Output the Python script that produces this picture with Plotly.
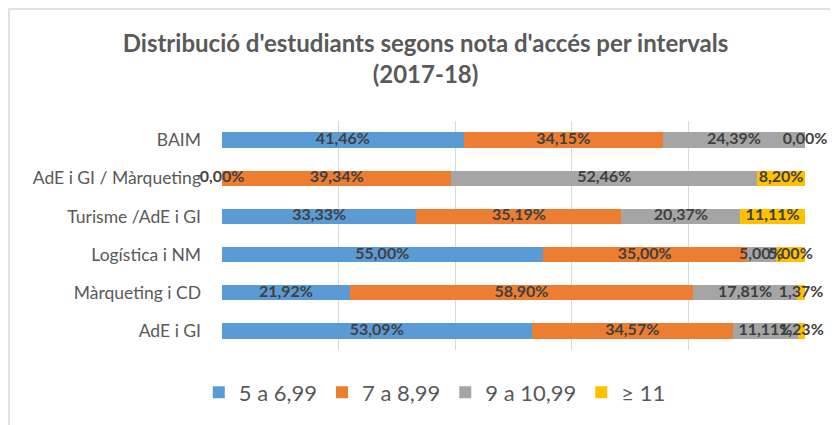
import numpy as np
import plotly.graph_objects as go

categories = ["AdE i GI", "Màrqueting i CD", "Logística i NM",
              "Turisme /AdE i GI", "AdE i GI / Màrqueting", "BAIM"]
series_names = ["5 a 6,99", "7 a 8,99", "9 a 10,99", "≥ 11"]
s1 = [53.09, 21.92, 55.00, 33.33, 0.00, 41.46]
s2 = [34.57, 58.90, 35.00, 35.19, 39.34, 34.15]
s3 = [11.11, 17.81, 5.00, 20.37, 52.46, 24.39]
s4 = [1.23, 1.37, 5.00, 11.11, 8.20, 0.00]
colors = ["#5B9BD5", "#ED7D31", "#A5A5A5", "#FFC000"]

series = [s1, s2, s3, s4]
FONT = "Lato"

fig = go.Figure()
for name, vals, col in zip(series_names, series, colors):
    fig.add_trace(go.Bar(
        y=categories, x=vals, name=name, orientation="h",
        marker=dict(color=col, line=dict(width=0)),
    ))

# data labels at segment midpoints
cum = np.zeros(len(categories))
for vals in series:
    v = np.array(vals)
    mid = cum + v / 2
    cum = cum + v
    fig.add_trace(go.Scatter(
        x=mid, y=categories, mode="text",
        text=[f"{x:.2f}%".replace(".", ",") for x in v],
        textfont=dict(family=FONT, size=16, color="#404040", weight="bold"),
        textposition="middle center", showlegend=False, hoverinfo="skip",
        cliponaxis=False,
    ))

fig.update_layout(
    width=830, height=417,
    barmode="stack", bargap=0.6,
    margin=dict(l=214, r=33, t=113, b=75),
    paper_bgcolor="white", plot_bgcolor="white",
    font=dict(family=FONT, color="#595959"),
    title=dict(
        text="<b>Distribució d'estudiants segons nota d'accés per intervals<br>(2017-18)</b>",
        x=0.503, xanchor="center", y=0.895, yanchor="top",
        font=dict(family=FONT, size=24, color="#595959"),
    ),
    xaxis=dict(range=[0, 100], dtick=20, showgrid=True, gridcolor="#D9D9D9",
               gridwidth=1, showticklabels=False, zeroline=False,
               showline=False, fixedrange=True),
    yaxis=dict(categoryorder="array", categoryarray=categories,
               showgrid=False, ticks="", ticklabelstandoff=20,
               tickfont=dict(family=FONT, size=17.5, color="#595959"),
               showline=False, zeroline=False),
    legend=dict(orientation="h", x=0.365, xanchor="center", y=-0.185,
                yanchor="middle", font=dict(family=FONT, size=22, color="#595959"),
                traceorder="normal"),
    shapes=[dict(type="rect", xref="paper", yref="paper",
                 x0=-0.3654, x1=1.3, y0=-0.6, y1=1.489,
                 line=dict(color="#D9D9D9", width=1.5), layer="above")],
)

fig.write_html("out.html")
